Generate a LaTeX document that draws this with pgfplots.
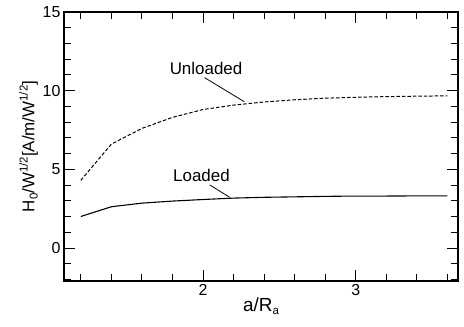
\documentclass[border=0pt]{standalone}
\usepackage{pgfplots}
\pgfplotsset{compat=1.18}
\usepackage{fontspec}
\setmainfont{Liberation Sans}
\setsansfont{Liberation Sans}
\newcommand\sps[1]{\raisebox{0.75ex}{\fontsize{11.5}{11.5}\selectfont #1}}
\newcommand\sbs[1]{\raisebox{-0.35ex}{\fontsize{11.5}{11.5}\selectfont #1}}
\begin{document}
\begin{tikzpicture}
\begin{axis}[
  scale only axis,
  width=394bp, height=269bp,
  xmin=1.09, xmax=3.67,
  ymin=-2.1, ymax=15,
  xtick={2,3},
  minor xtick={1.2,1.4,1.6,1.8,2.2,2.4,2.6,2.8,3.2,3.4,3.6},
  ytick={0,5,10,15},
  minor ytick={-2,-1,1,2,3,4,6,7,8,9,11,12,13,14},
  tick align=inside,
  major tick length=11bp,
  minor tick length=7bp,
  every tick/.style={black, line width=0.9pt},
  axis line style={line width=1.2pt},
  tick label style={font=\fontsize{16}{18}\selectfont},
  /pgf/number format/assume math mode=true,
  xlabel={a/R\sbs{a}},
  ylabel={H\sbs{0}/W\sps{1/2}[A/m/W\sps{1/2}]},
  xlabel style={font=\fontsize{19}{21}\selectfont, yshift=5bp},
  ylabel style={font=\fontsize{17}{19}\selectfont, yshift=-2bp},
  clip=false,
]
\addplot[black, line width=1pt, dash pattern=on 3.5pt off 2pt] coordinates {
(1.2,4.3) (1.4,6.6) (1.6,7.6) (1.8,8.3) (2.0,8.8) (2.2,9.08) (2.4,9.28) (2.6,9.42) (2.8,9.52) (3.0,9.58) (3.2,9.62) (3.4,9.65) (3.6,9.67)};
\addplot[black, line width=1.1pt] coordinates {
(1.2,2.0) (1.4,2.62) (1.6,2.85) (1.8,2.98) (2.0,3.08) (2.2,3.17) (2.4,3.22) (2.6,3.25) (2.8,3.28) (3.0,3.3) (3.2,3.3) (3.4,3.31) (3.6,3.31)};
\node[font=\fontsize{17}{19}\selectfont] at (axis cs:2.02,11.4) {Unloaded};
\draw[line width=0.8pt] (axis cs:2.01,10.83) -- (axis cs:2.27,9.3);
\node[font=\fontsize{17}{19}\selectfont] at (axis cs:1.99,4.59) {Loaded};
\draw[line width=0.8pt] (axis cs:2.044,4.01) -- (axis cs:2.175,3.22);
\end{axis}
\pgfresetboundingbox
\useasboundingbox ([shift={(-64bp,-46bp)}]current axis.south west) rectangle ([shift={(6bp,12bp)}]current axis.north east);
\end{tikzpicture}
\end{document}
